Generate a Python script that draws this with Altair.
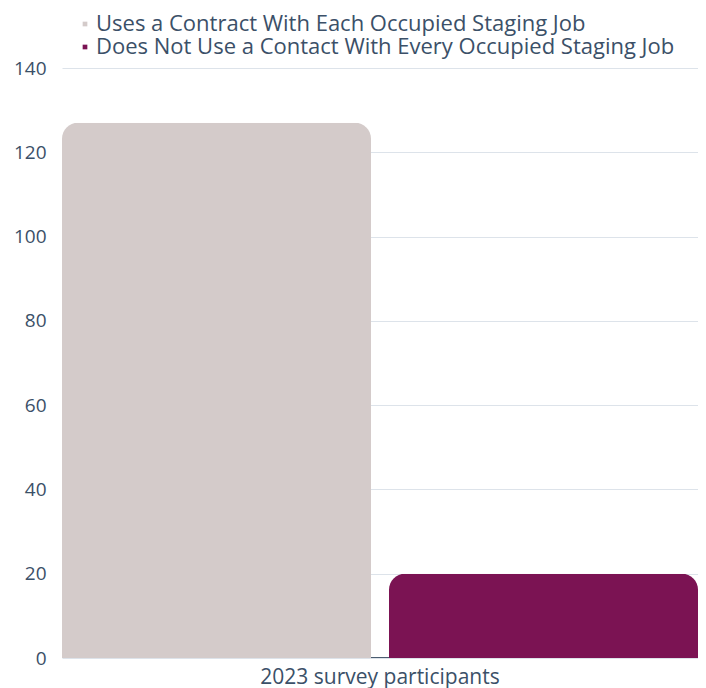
import altair as alt
import pandas as pd

categories = ["2023 survey participants", "2023 survey participants"]
series = ["Uses a Contract With Each Occupied Staging Job",
          "Does Not Use a Contact With Every Occupied Staging Job"]
values = [127, 20]
colors = ["#d4cbca", "#7b1353"]
y_ticks = [0, 20, 40, 60, 80, 100, 120, 140]

df = pd.DataFrame({"cat": categories, "series": series, "value": values})

FONT = "Open Sans"
TXT = "#3b5068"

chart = alt.Chart(df).mark_bar(cornerRadiusTopLeft=16, cornerRadiusTopRight=16).encode(
    x=alt.X("cat:N", title=None,
            scale=alt.Scale(paddingInner=0, paddingOuter=0),
            axis=alt.Axis(labelAngle=0, labelFontSize=21, labelColor=TXT, labelFont=FONT,
                          ticks=False, domainColor="#4a5c70", labelPadding=9, offset=-1,
                          labelLimit=500)),
    xOffset=alt.XOffset("series:N", sort=series,
                        scale=alt.Scale(paddingInner=0.055, paddingOuter=0)),
    y=alt.Y("value:Q", title=None,
            scale=alt.Scale(domain=[0, 140]),
            axis=alt.Axis(values=y_ticks, labelFontSize=19, labelColor=TXT, labelFont=FONT,
                          ticks=False, domain=False, gridColor="#dde3ea", labelPadding=16)),
    color=alt.Color("series:N", sort=series,
                    scale=alt.Scale(domain=series, range=colors),
                    legend=alt.Legend(title=None, orient="none", legendX=12, legendY=-55,
                                      symbolType="square", symbolSize=22, symbolStrokeWidth=0,
                                      labelFontSize=22, labelColor=TXT, labelFont=FONT,
                                      labelOffset=0, rowPadding=1, labelLimit=700)),
).properties(
    width=636, height=590,
    autosize=alt.AutoSizeParams(type="none"),
    padding={"left": 54, "top": 60, "right": 0, "bottom": 30},
).configure_view(stroke=None)

chart.save("out.html", embed_options={"renderer": "svg", "actions": False})
